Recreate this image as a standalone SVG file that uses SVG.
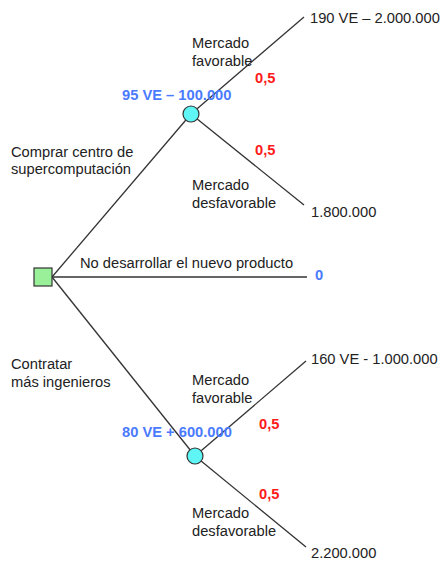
<svg xmlns="http://www.w3.org/2000/svg" width="443" height="561" viewBox="0 0 443 561">
<style>
text{font-family:"Liberation Sans",Arial,sans-serif;font-size:14.7px;fill:#222}
.b{fill:#4a7bff;font-weight:bold}
.r{fill:#ff1a1a;font-weight:bold}
.ln{stroke:#333;stroke-width:1.3;fill:none}
</style>
<rect width="443" height="561" fill="#fff"/>
<g id="connectors">
<line class="ln" x1="52" y1="277" x2="191" y2="114"/>
<line class="ln" x1="191" y1="114" x2="304" y2="17"/>
<line class="ln" x1="191" y1="114" x2="304" y2="205"/>
<line class="ln" x1="52" y1="277" x2="307" y2="277"/>
<line class="ln" x1="52" y1="277" x2="195" y2="456"/>
<line class="ln" x1="195" y1="456" x2="306" y2="361"/>
<line class="ln" x1="195" y1="456" x2="306" y2="547"/>
</g>
<g id="decision"><rect x="34" y="268" width="18" height="18" fill="#99f099" stroke="#333" stroke-width="1.2"/></g>
<g id="chance1"><circle cx="191" cy="114" r="8" fill="#5ff5f5" stroke="#333" stroke-width="1.2"/></g>
<g id="chance2"><circle cx="195" cy="456" r="8" fill="#5ff5f5" stroke="#333" stroke-width="1.2"/></g>
<g id="labels">
<text x="310" y="23">190 VE – 2.000.000</text>
<text x="192" y="48">Mercado</text>
<text x="192" y="66">favorable</text>
<text class="r" x="255" y="83">0,5</text>
<text class="b" x="122" y="100">95 VE – 100.000</text>
<text class="r" x="255" y="155">0,5</text>
<text x="11" y="157">Comprar centro de</text>
<text x="11" y="174">supercomputación</text>
<text x="192" y="190">Mercado</text>
<text x="192" y="208">desfavorable</text>
<text x="311" y="217">1.800.000</text>
<text x="80" y="268">No desarrollar el nuevo producto</text>
<text class="b" x="315" y="280">0</text>
<text x="11" y="369">Contratar</text>
<text x="11" y="387">más ingenieros</text>
<text x="311" y="364">160 VE - 1.000.000</text>
<text x="192" y="385">Mercado</text>
<text x="192" y="403">favorable</text>
<text class="r" x="259" y="429">0,5</text>
<text class="b" x="122" y="437">80 VE + 600.000</text>
<text class="r" x="259" y="499">0,5</text>
<text x="192" y="518">Mercado</text>
<text x="192" y="536">desfavorable</text>
<text x="311" y="558">2.200.000</text>
</g>
</svg>
